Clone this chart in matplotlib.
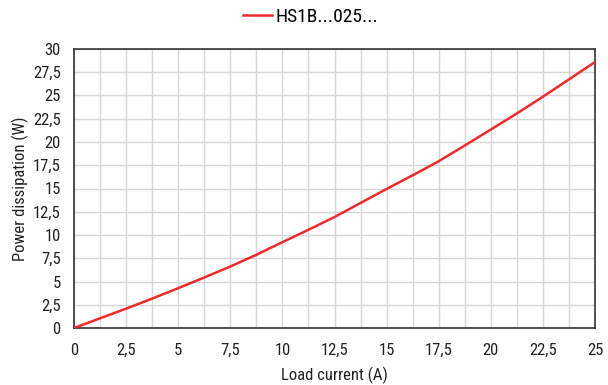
import matplotlib
matplotlib.use("Agg")
import matplotlib.pyplot as plt
from matplotlib.ticker import MultipleLocator, FuncFormatter

# load current (A) vs power dissipation (W)
current = [0, 1.25, 2.5, 3.75, 5, 6.25, 7.5, 8.75, 10, 11.25, 12.5,
           13.75, 15, 16.25, 17.5, 18.75, 20, 21.25, 22.5, 23.75, 25]
power = [0, 1.04, 2.08, 3.16, 4.28, 5.43, 6.61, 7.87, 9.23, 10.56, 11.93,
         13.44, 14.95, 16.42, 17.93, 19.62, 21.34, 23.07, 24.87, 26.73, 28.6]
series_name = "HS1B...025..."

# narrow sans, closest thing to the original's Arial Narrow
plt.rcParams['font.family'] = ['Roboto Condensed', 'Liberation Sans', 'DejaVu Sans']

fig = plt.figure(figsize=(6.08, 3.85), dpi=100)
ax = fig.add_axes([74 / 608, 1 - 328 / 385, 521 / 608, 279 / 385])

ax.plot(current, power, color="#ee2b2b", lw=1.8, label=series_name, zorder=3)

ax.set_xlim(0, 25)
ax.set_ylim(0, 30)
ax.xaxis.set_major_locator(MultipleLocator(2.5))
ax.yaxis.set_major_locator(MultipleLocator(2.5))
ax.xaxis.set_minor_locator(MultipleLocator(1.25))

# decimal comma labels
comma = FuncFormatter(lambda v, pos: ("%g" % v).replace(".", ","))
ax.xaxis.set_major_formatter(comma)
ax.yaxis.set_major_formatter(comma)

ax.grid(True, which="both", color="#d6d6d6", lw=1.0, zorder=0)
ax.tick_params(which="both", length=0, labelsize=12, colors="#222222")
ax.tick_params(axis="x", pad=10.5)
ax.tick_params(axis="y", pad=9.6)
for s in ax.spines.values():
    s.set_color("#333333")
    s.set_linewidth(1.2)

ax.set_xlabel("Load current (A)", fontsize=12, color="#222222", labelpad=6.5)
ax.set_ylabel("Power dissipation (W)", fontsize=12, color="#222222", labelpad=2.4)

fig.legend(loc="center", bbox_to_anchor=(0.511, 1 - 17 / 385), frameon=False,
           fontsize=14, handlelength=1.5, handletextpad=0.15, borderpad=0)

fig.savefig("out.png", dpi=100)
